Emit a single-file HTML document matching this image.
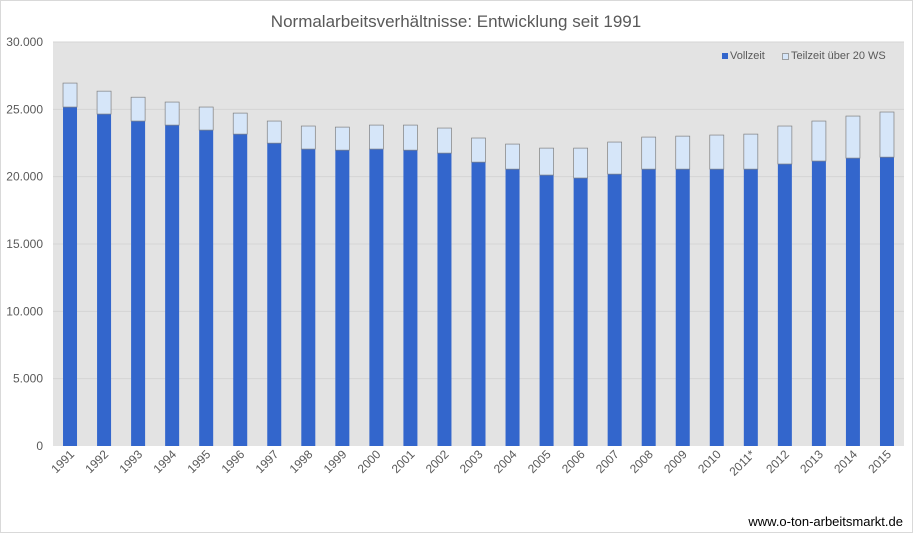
<!DOCTYPE html>
<html><head><meta charset="utf-8"><style>
body{margin:0;background:#fff;font-family:"Liberation Sans",sans-serif}
svg text{font-family:"Liberation Sans",sans-serif}
</style></head><body>
<svg width="913" height="533" xmlns="http://www.w3.org/2000/svg">
<rect x="0.5" y="0.5" width="912" height="532" fill="#fff" stroke="#d9d9d9"/>
<text x="456" y="27" text-anchor="middle" font-size="17" fill="#595959">Normalarbeitsverhältnisse: Entwicklung seit 1991</text>
<rect x="53" y="42" width="851" height="404" fill="#e3e3e3"/>
<g id="grid"></g><g id="bars"></g><g id="ylab"></g><g id="xlab"></g>
<g>
<rect x="722" y="53" width="6" height="6" fill="#3366cc"/>
<text x="730" y="59" font-size="11" fill="#595959">Vollzeit</text>
<rect x="782.5" y="53.5" width="6" height="6" fill="#d6e6f9" stroke="#7f7f7f" stroke-width="0.7"/>
<text x="791" y="59" font-size="11" fill="#595959">Teilzeit über 20 WS</text>
</g>
<text x="903" y="526" text-anchor="end" font-size="13" fill="#000">www.o-ton-arbeitsmarkt.de</text>
</svg>
<script>
const years=["1991","1992","1993","1994","1995","1996","1997","1998","1999","2000","2001","2002","2003","2004","2005","2006","2007","2008","2009","2010","2011*","2012","2013","2014","2015"];
const vollzeit=[25170,24650,24130,23830,23460,23160,22490,22050,21970,22050,21970,21750,21080,20560,20120,19900,20190,20560,20560,20560,20560,20940,21160,21380,21450];
const teilzeit=[1780,1700,1770,1710,1710,1560,1640,1710,1710,1780,1860,1860,1790,1860,2000,2220,2380,2380,2450,2530,2600,2820,2970,3120,3350];
const yTicks=[0,5000,10000,15000,20000,25000,30000];
const yTickLabels=["0","5.000","10.000","15.000","20.000","25.000","30.000"];
const NS="http://www.w3.org/2000/svg";
const x0=53,x1=904,y0=446,y1=42,ymax=30000;
const y=v=>y0-(v/ymax)*(y0-y1);
const band=(x1-x0)/years.length;
const xc=i=>x0+band*(i+0.5);
function mk(t,a,p){const e=document.createElementNS(NS,t);for(const k in a)e.setAttribute(k,a[k]);p.appendChild(e);return e;}
const grid=document.getElementById('grid'),ylab=document.getElementById('ylab'),bars=document.getElementById('bars'),xlab=document.getElementById('xlab');
yTicks.forEach((v,i)=>{
 if(v>0){const l=mk('line',{x1:x0,x2:x1,y1:y(v),y2:y(v),stroke:'#d4d4d4','stroke-width':1},grid);
 
 }
 const t=mk('text',{x:43,y:y(v)+4,'text-anchor':'end','font-size':12,fill:'#595959'},ylab);
 t.textContent=yTickLabels[i];
 
 
});
const bw=14;
years.forEach((yr,i)=>{
 const cx=xc(i);
 const b1=mk('rect',{x:cx-bw/2,y:y(vollzeit[i]),width:bw,height:y0-y(vollzeit[i]),fill:'#3366cc'},bars);
 
 
 const tot=vollzeit[i]+teilzeit[i];
 const b2=mk('rect',{x:cx-bw/2,y:y(tot),width:bw,height:y(vollzeit[i])-y(tot),fill:'#d6e6f9',stroke:'#808080','stroke-width':0.7},bars);
 
 
 const t=mk('text',{x:cx+5,y:455,'text-anchor':'end','font-size':12,fill:'#595959',transform:`rotate(-45 ${cx+5} 455)`},xlab);
 t.textContent=yr;
 
 
});
</script>
</body></html>
